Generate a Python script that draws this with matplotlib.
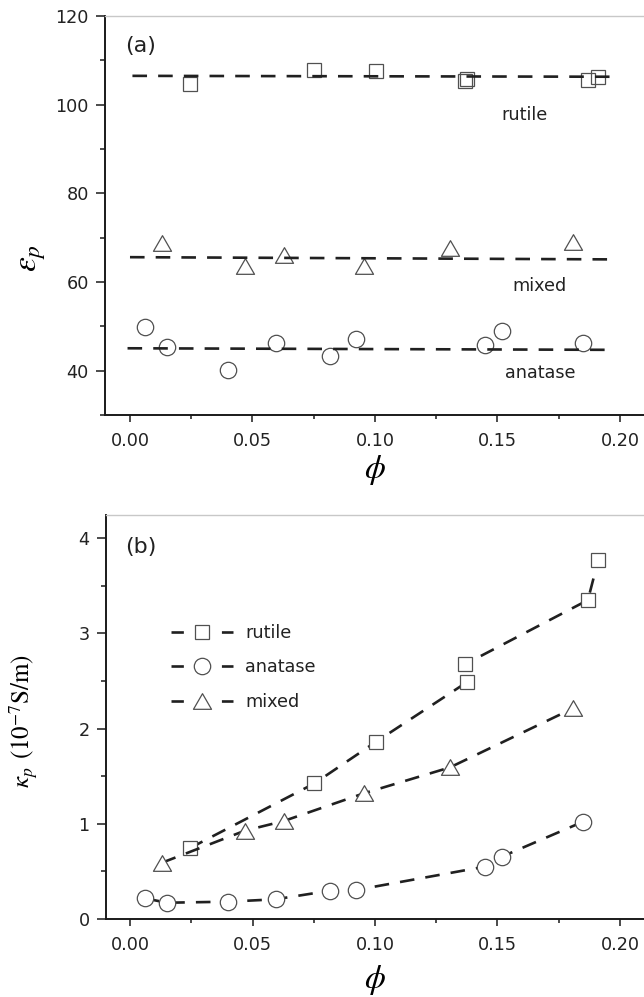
import matplotlib
matplotlib.use("Agg")
import matplotlib.pyplot as plt
from matplotlib.lines import Line2D
from matplotlib.path import Path
from matplotlib.ticker import MultipleLocator, FormatStrFormatter

plt.rcParams['font.family'] = ['DejaVu Sans']
plt.rcParams['mathtext.fontset'] = 'stix'
plt.rcParams['lines.scale_dashes'] = False

# ---- volume fraction of particles -------------------------------------
phi_rutile = [0.0243, 0.0753, 0.1003, 0.1374, 0.1366, 0.1869, 0.1911]
phi_anatase = [0.0061, 0.0151, 0.0401, 0.0594, 0.0816, 0.0923, 0.1447, 0.1517, 0.1849]
phi_mixed = [0.0130, 0.0469, 0.0627, 0.0954, 0.1306, 0.1808]

# ---- (a) particle permittivity ----------------------------------------
eps_rutile = [104.7, 107.8, 107.6, 105.7, 105.4, 105.6, 106.3]
eps_anatase = [49.9, 45.4, 40.2, 46.2, 43.3, 47.1, 45.8, 48.9, 46.2]
eps_mixed = [68.7, 63.6, 66.1, 63.6, 67.6, 69.1]

# straight-line fits drawn through each group
fit_phi_rutile = [0.001, 0.197]
fit_eps_rutile = [106.5, 106.3]
fit_phi_mixed = [0.000, 0.1966]
fit_eps_mixed = [65.6, 65.1]
fit_phi_anatase = [-0.001, 0.195]
fit_eps_anatase = [45.05, 44.7]

# ---- (b) particle conductivity, 1e-7 S/m -------------------------------
kappa_rutile = [0.743, 1.425, 1.860, 2.486, 2.675, 3.351, 3.770]
kappa_anatase = [0.217, 0.171, 0.182, 0.207, 0.297, 0.305, 0.549, 0.654, 1.022]
kappa_mixed = [0.591, 0.928, 1.029, 1.320, 1.593, 2.213]

series_names = ['rutile', 'anatase', 'mixed']
x_ticks = [0.00, 0.05, 0.10, 0.15, 0.20]
eps_ticks = [40, 60, 80, 100, 120]
kappa_ticks = [0, 1, 2, 3, 4]

# equilateral open triangle
tri = Path([(-1, -0.866), (1, -0.866), (0, 0.866), (-1, -0.866)],
           [Path.MOVETO, Path.LINETO, Path.LINETO, Path.CLOSEPOLY])

LINE_C = '#202020'
EDGE_C = '#505050'
DASH = (10.5, 8.0)
LW = 1.9
markers = {
    'rutile': dict(marker='s', ms=9.6),
    'anatase': dict(marker='o', ms=11.8),
    'mixed': dict(marker=tri, ms=13.0),
}
FS = 12.7

fig = plt.figure(figsize=(6.44, 9.97), dpi=100)
ax1 = fig.add_axes([105 / 644, 1 - 415 / 997, 539 / 644, 399 / 997])
ax2 = fig.add_axes([106 / 644, 1 - 919 / 997, 538 / 644, 404 / 997])


def style_axes(ax):
    for side in ('left', 'bottom'):
        ax.spines[side].set_linewidth(1.4)
        ax.spines[side].set_color('#1a1a1a')
    ax.spines['top'].set_color('#c8c8c8')
    ax.spines['top'].set_linewidth(1.0)
    ax.spines['right'].set_visible(False)
    ax.tick_params(which='both', direction='out', top=False, right=False,
                   width=1.1, color='#1a1a1a', labelsize=FS, labelcolor='#222222')
    ax.tick_params(axis='y', which='major', length=6.2, pad=5.5)
    ax.tick_params(axis='y', which='minor', length=3.3)
    ax.tick_params(axis='x', which='major', length=5.0, pad=7)
    ax.tick_params(axis='x', which='minor', length=3.0)
    ax.set_xticks(x_ticks)
    ax.xaxis.set_major_formatter(FormatStrFormatter('%.2f'))
    ax.xaxis.set_minor_locator(MultipleLocator(0.025))


# ---------------- panel (a) ----------------
style_axes(ax1)
groups_a = [
    ('rutile', phi_rutile, eps_rutile, fit_phi_rutile, fit_eps_rutile),
    ('anatase', phi_anatase, eps_anatase, fit_phi_anatase, fit_eps_anatase),
    ('mixed', phi_mixed, eps_mixed, fit_phi_mixed, fit_eps_mixed),
]
for name, px, py, fx, fy in groups_a:
    ax1.plot(px, py, linestyle='none', mfc='none', mec=EDGE_C, mew=0.9,
             zorder=2, **markers[name])
    ax1.plot(fx, fy, color=LINE_C, lw=LW, dashes=DASH, zorder=3)

ax1.set_xlim(-0.0102, 0.2098)
ax1.set_ylim(30, 120)
ax1.set_yticks(eps_ticks)
ax1.yaxis.set_minor_locator(MultipleLocator(10))

ax1.text(0.1612, 97.7, 'rutile', fontsize=FS, ha='center', va='center', color='#222222')
ax1.text(0.1673, 59.0, 'mixed', fontsize=FS, ha='center', va='center', color='#222222')
ax1.text(0.1673, 39.5, 'anatase', fontsize=FS, ha='center', va='center', color='#222222')
ax1.text(0.037, 0.925, '(a)', transform=ax1.transAxes, fontsize=16,
         ha='left', va='center', color='#222222')

ax1.set_xlabel(r'$\phi$', fontsize=24)
ax1.xaxis.set_label_coords(0.5, -0.095)
ax1.set_ylabel(r'$\varepsilon_p$', fontsize=24)
ax1.yaxis.set_label_coords(-0.106, 0.393)

# ---------------- panel (b) ----------------
style_axes(ax2)
groups_b = [
    ('rutile', phi_rutile, kappa_rutile),
    ('anatase', phi_anatase, kappa_anatase),
    ('mixed', phi_mixed, kappa_mixed),
]
for name, px, py in groups_b:
    ax2.plot(px, py, color=LINE_C, lw=LW, dashes=DASH, mfc='white',
             mec=EDGE_C, mew=0.9, **markers[name])

ax2.set_xlim(-0.0098, 0.2098)
ax2.set_ylim(0, 4.245)
ax2.set_yticks(kappa_ticks)
ax2.yaxis.set_minor_locator(MultipleLocator(0.5))

handles = [Line2D([], [], color=LINE_C, lw=LW, dashes=(8.9, 27.4), mfc='white',
                  mec=EDGE_C, mew=0.9, **markers[n]) for n in series_names]
ax2.legend(handles, series_names, loc='upper left', bbox_to_anchor=(0.120, 0.731),
           frameon=False, fontsize=FS, handlelength=3.52, handletextpad=0.7,
           labelspacing=0.95, borderpad=0, borderaxespad=0, numpoints=1,
           labelcolor='#222222')

ax2.text(0.035, 0.92, '(b)', transform=ax2.transAxes, fontsize=16,
         ha='left', va='center', color='#222222')

ax2.set_xlabel(r'$\phi$', fontsize=24)
ax2.xaxis.set_label_coords(0.5, -0.11)
ax2.set_ylabel(r'$\kappa_p\;\,(10^{-7}\mathrm{S/m})$', fontsize=18)
ax2.yaxis.set_label_coords(-0.123, 0.49)

fig.savefig('out.png', dpi=100)
